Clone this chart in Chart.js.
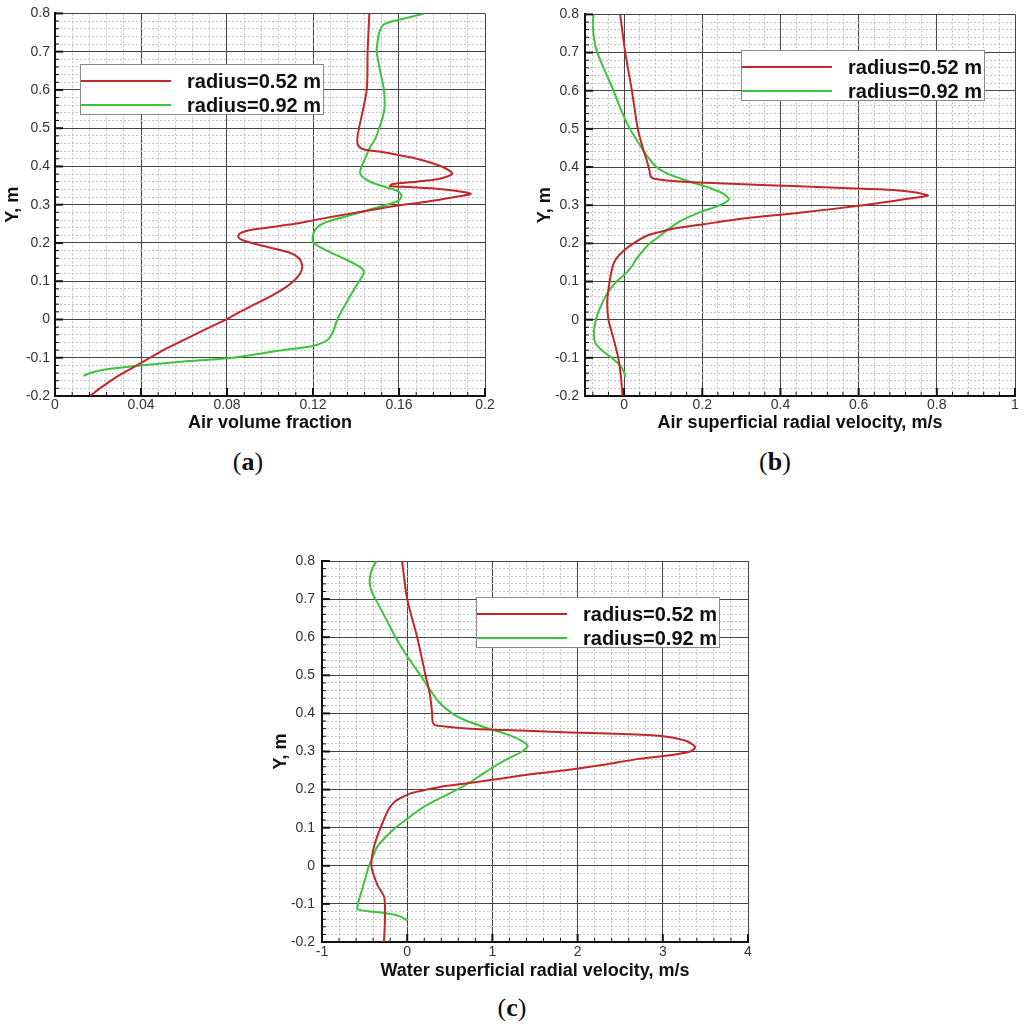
<!DOCTYPE html>
<html>
<head>
<meta charset="utf-8">
<script src="https://cdn.jsdelivr.net/npm/chart.js@4.4.1/dist/chart.umd.min.js"></script>
<style>
  body { margin: 0; background: #fff; width: 1024px; height: 1032px; position: relative; overflow: hidden; }
  canvas { position: absolute; }
  .cap { position: absolute; width: 100px; text-align: center; font: 26px "Liberation Serif", "Times New Roman", serif; line-height: 30px; color: #111; }
</style>
</head>
<body>
<canvas id="chartA" width="505" height="440" style="left:0px;top:0px"></canvas>
<canvas id="chartB" width="514" height="440" style="left:510px;top:0px"></canvas>
<canvas id="chartC" width="485" height="490" style="left:270px;top:500px"></canvas>
<div class="cap" style="left:198px;top:447px">(<b>a</b>)</div>
<div class="cap" style="left:725px;top:447px">(<b>b</b>)</div>
<div class="cap" style="left:462px;top:993px">(<b>c</b>)</div>

<script>
// series names
var seriesNames = ['radius=0.52 m', 'radius=0.92 m'];
var seriesColors = ['#c0282c', '#3cc43c'];

// shared Y axis (height, m)
var yTicks = [-0.2, -0.1, 0, 0.1, 0.2, 0.3, 0.4, 0.5, 0.6, 0.7, 0.8];
var yLabels = ['-0.2', '-0.1', '0', '0.1', '0.2', '0.3', '0.4', '0.5', '0.6', '0.7', '0.8'];

// (a) air volume fraction
var xTicksA = [0, 0.04, 0.08, 0.12, 0.16, 0.2];
var xLabelsA = ['0', '0.04', '0.08', '0.12', '0.16', '0.2'];
var yRedA = [0.80, 0.70, 0.60, 0.50, 0.47, 0.455, 0.445, 0.437, 0.420, 0.398, 0.381, 0.368, 0.360, 0.354, 0.349, 0.346, 0.341, 0.332, 0.328, 0.321, 0.308, 0.296, 0.278, 0.261, 0.248, 0.235, 0.225, 0.215, 0.205, 0.19, 0.175, 0.16, 0.14, 0.12, 0.10, 0.08, 0.06, 0.04, 0.02, 0.0, -0.02, -0.05, -0.08, -0.10, -0.125, -0.15, -0.18, -0.20];
var xRedA = [0.1462, 0.1454, 0.1450, 0.1414, 0.1406, 0.1410, 0.1434, 0.1527, 0.1682, 0.1806, 0.1848, 0.1790, 0.1680, 0.1570, 0.1558, 0.1650, 0.1790, 0.1915, 0.1933, 0.1868, 0.1729, 0.1574, 0.1388, 0.1217, 0.1093, 0.0922, 0.0860, 0.0853, 0.0884, 0.0985, 0.1090, 0.1135, 0.1150, 0.1140, 0.1109, 0.1062, 0.1000, 0.0930, 0.0860, 0.0798, 0.0721, 0.0612, 0.0504, 0.0442, 0.0364, 0.0287, 0.0209, 0.0163];
var yGreenA = [0.80, 0.79, 0.78, 0.77, 0.75, 0.72, 0.70, 0.65, 0.60, 0.55, 0.52, 0.50, 0.47, 0.45, 0.42, 0.40, 0.385, 0.375, 0.36, 0.345, 0.335, 0.322, 0.31, 0.30, 0.285, 0.27, 0.255, 0.24, 0.225, 0.21, 0.20, 0.18, 0.16, 0.14, 0.125, 0.11, 0.09, 0.06, 0.03, 0.0, -0.03, -0.05, -0.06, -0.07, -0.08, -0.10, -0.11, -0.12, -0.13, -0.14, -0.148];
var xGreenA = [0.1716, 0.1650, 0.1574, 0.1527, 0.1508, 0.1499, 0.1496, 0.1512, 0.1530, 0.1532, 0.1520, 0.1508, 0.1488, 0.1465, 0.1442, 0.1426, 0.1419, 0.1426, 0.1465, 0.1543, 0.1597, 0.1612, 0.1597, 0.1543, 0.1450, 0.1357, 0.1264, 0.1217, 0.1202, 0.1198, 0.1202, 0.1264, 0.1341, 0.1411, 0.1437, 0.1426, 0.1403, 0.1372, 0.1341, 0.1313, 0.1295, 0.1274, 0.1248, 0.1194, 0.1062, 0.0829, 0.0597, 0.0395, 0.0240, 0.0163, 0.0132];

// (b) air superficial radial velocity
var xTicksB = [0, 0.2, 0.4, 0.6, 0.8, 1];
var xLabelsB = ['0', '0.2', '0.4', '0.6', '0.8', '1'];
var yRedB = [0.80, 0.70, 0.60, 0.50, 0.45, 0.41, 0.39, 0.375, 0.37, 0.365, 0.36, 0.355, 0.35, 0.345, 0.34, 0.333, 0.325, 0.315, 0.30, 0.28, 0.265, 0.25, 0.24, 0.23, 0.22, 0.20, 0.18, 0.16, 0.14, 0.10, 0.05, 0.0, -0.05, -0.10, -0.15, -0.20];
var xRedB = [-0.010, 0.003, 0.020, 0.035, 0.048, 0.060, 0.065, 0.068, 0.075, 0.109, 0.177, 0.305, 0.432, 0.560, 0.688, 0.747, 0.777, 0.713, 0.611, 0.449, 0.305, 0.203, 0.135, 0.092, 0.058, 0.024, -0.002, -0.020, -0.029, -0.037, -0.043, -0.040, -0.027, -0.015, -0.008, -0.004];
var yGreenB = [0.80, 0.77, 0.72, 0.68, 0.64, 0.60, 0.55, 0.50, 0.46, 0.43, 0.40, 0.38, 0.36, 0.345, 0.33, 0.315, 0.30, 0.28, 0.26, 0.24, 0.22, 0.20, 0.18, 0.16, 0.14, 0.12, 0.10, 0.08, 0.05, 0.02, 0.0, -0.03, -0.06, -0.08, -0.10, -0.12, -0.14, -0.15];
var xGreenB = [-0.078, -0.080, -0.074, -0.061, -0.044, -0.027, -0.008, 0.015, 0.039, 0.058, 0.083, 0.117, 0.173, 0.220, 0.254, 0.268, 0.245, 0.190, 0.147, 0.117, 0.092, 0.066, 0.048, 0.032, 0.020, 0.003, -0.019, -0.036, -0.053, -0.066, -0.072, -0.077, -0.074, -0.057, -0.032, -0.010, 0.001, 0.003];

// (c) water superficial radial velocity
var xTicksC = [-1, 0, 1, 2, 3, 4];
var xLabelsC = ['-1', '0', '1', '2', '3', '4'];
var yRedC = [0.80, 0.70, 0.60, 0.50, 0.45, 0.40, 0.38, 0.37, 0.365, 0.36, 0.355, 0.35, 0.345, 0.34, 0.33, 0.32, 0.31, 0.30, 0.29, 0.28, 0.265, 0.25, 0.24, 0.23, 0.22, 0.21, 0.20, 0.19, 0.18, 0.17, 0.15, 0.10, 0.05, 0.0, -0.05, -0.08, -0.10, -0.15, -0.20];
var xRedC = [-0.06, 0.0, 0.117, 0.215, 0.266, 0.293, 0.297, 0.32, 0.469, 0.742, 1.328, 1.914, 2.617, 3.008, 3.242, 3.34, 3.379, 3.32, 3.086, 2.695, 2.305, 1.836, 1.445, 1.133, 0.82, 0.469, 0.234, 0.039, -0.059, -0.137, -0.215, -0.313, -0.39, -0.42, -0.35, -0.273, -0.262, -0.262, -0.273];
var yGreenC = [0.80, 0.78, 0.75, 0.72, 0.70, 0.65, 0.60, 0.55, 0.50, 0.46, 0.43, 0.40, 0.38, 0.36, 0.345, 0.33, 0.315, 0.30, 0.28, 0.26, 0.24, 0.22, 0.20, 0.18, 0.16, 0.14, 0.12, 0.10, 0.08, 0.05, 0.02, 0.0, -0.03, -0.06, -0.09, -0.11, -0.115, -0.12, -0.125, -0.13, -0.14, -0.145];
var xGreenC = [-0.359, -0.41, -0.441, -0.418, -0.371, -0.254, -0.137, 0.0, 0.156, 0.273, 0.371, 0.527, 0.703, 0.957, 1.172, 1.328, 1.414, 1.348, 1.172, 1.016, 0.879, 0.742, 0.586, 0.41, 0.234, 0.098, -0.02, -0.137, -0.234, -0.352, -0.41, -0.449, -0.488, -0.527, -0.566, -0.586, -0.578, -0.43, -0.234, -0.117, -0.02, 0.0];

Chart.defaults.font.family = '"Liberation Sans", Arial, sans-serif';
Chart.defaults.color = '#333';

function pairs(xs, ys) {
  return xs.map(function(x, i) { return {x: x, y: ys[i]}; });
}

function isMajor(v, majors) {
  for (var i = 0; i < majors.length; i++) {
    if (Math.abs(majors[i] - v) < 1e-9) return i;
  }
  return -1;
}

// majors plus 4 minor ticks between each pair, kept inside [min, max]
function withMinors(majors, min, max) {
  var step = (majors[1] - majors[0]) / 5;
  var out = [];
  for (var v = majors[0]; v >= min - 1e-9; v -= step) out.unshift(Math.round(v * 1e6) / 1e6);
  for (v = majors[0] + step; v <= max + 1e-9; v += step) out.push(Math.round(v * 1e6) / 1e6);
  return out;
}

function axis(majors, labels, min, max, title, size, pad, tickPad) {
  return {
    type: 'linear',
    min: min,
    max: max,
    afterBuildTicks: function(scale) {
      scale.ticks = withMinors(majors, min, max).map(function(v) { return {value: v}; });
    },
    afterFit: function(scale) {
      if (scale.isHorizontal()) scale.height = size; else scale.width = size;
    },
    ticks: {
      autoSkip: false,
      maxRotation: 0,
      padding: tickPad,
      color: '#333',
      font: {size: 14},
      callback: function(value) {
        var k = isMajor(value, majors);
        return k >= 0 ? labels[k] : '';
      }
    },
    grid: {
      drawTicks: false,
      color: function(ctx) { return isMajor(ctx.tick.value, majors) >= 0 ? '#454545' : '#c2c2c2'; },
      lineWidth: 1
    },
    border: {
      display: true,
      color: '#111',
      width: 2,
      dash: function(ctx) {
        if (!ctx.tick) return [];
        return isMajor(ctx.tick.value, majors) >= 0 ? [] : [2, 2];
      }
    },
    title: {
      display: true,
      text: title,
      color: '#111',
      font: {size: 18, weight: 'bold'},
      padding: pad
    }
  };
}

// short tick marks pointing into the plot on the left and bottom axes
var innerTicks = {
  id: 'innerTicks',
  afterDatasetsDraw: function(chart, args, opts) {
    var ctx = chart.ctx, a = chart.chartArea;
    ctx.save();
    ctx.strokeStyle = '#111';
    chart.scales.x.ticks.forEach(function(t) {
      var px = chart.scales.x.getPixelForValue(t.value);
      var major = isMajor(t.value, opts.xMajors) >= 0;
      ctx.lineWidth = major ? 2 : 1;
      ctx.beginPath();
      ctx.moveTo(px, a.bottom);
      ctx.lineTo(px, a.bottom - (major ? 8 : 4));
      ctx.stroke();
    });
    chart.scales.y.ticks.forEach(function(t) {
      var py = chart.scales.y.getPixelForValue(t.value);
      var major = isMajor(t.value, yTicks) >= 0;
      ctx.lineWidth = major ? 2 : 1;
      ctx.beginPath();
      ctx.moveTo(a.left, py);
      ctx.lineTo(a.left + (major ? 8 : 4), py);
      ctx.stroke();
    });
    ctx.restore();
  }
};

// boxed legend placed inside the plot, like the original figure
var boxLegend = {
  id: 'boxLegend',
  afterDraw: function(chart, args, opts) {
    var ctx = chart.ctx, a = chart.chartArea;
    var x0 = Math.round(a.left + opts.fx * (a.right - a.left));
    var y0 = Math.round(a.top + opts.fy * (a.bottom - a.top));
    ctx.save();
    ctx.fillStyle = '#fff';
    ctx.fillRect(x0, y0, 243, 50);
    ctx.strokeStyle = '#8a8a8a';
    ctx.lineWidth = 1;
    ctx.strokeRect(x0 + 0.5, y0 + 0.5, 243, 50);
    chart.data.datasets.forEach(function(ds, i) {
      var ly = y0 + 17 + i * 24;
      ctx.strokeStyle = ds.borderColor;
      ctx.lineWidth = 2;
      ctx.beginPath();
      ctx.moveTo(x0 + 1, ly);
      ctx.lineTo(x0 + 91, ly);
      ctx.stroke();
      ctx.fillStyle = '#111';
      ctx.font = 'bold 20px "Liberation Sans", Arial, sans-serif';
      ctx.textBaseline = 'middle';
      ctx.fillText(ds.label, x0 + 107, ly + 1);
    });
    ctx.restore();
  }
};

function makeChart(id, red, green, xScale, yScale, layoutPad, xMajors, legendPos) {
  return new Chart(document.getElementById(id), {
    type: 'scatter',
    data: {
      datasets: [
        {label: seriesNames[0], data: red, borderColor: seriesColors[0], showLine: true, borderWidth: 2, pointRadius: 0, tension: 0.25},
        {label: seriesNames[1], data: green, borderColor: seriesColors[1], showLine: true, borderWidth: 2, pointRadius: 0, tension: 0.25}
      ]
    },
    options: {
      responsive: false,
      animation: false,
      events: [],
      layout: {padding: layoutPad},
      scales: {x: xScale, y: yScale},
      plugins: {
        legend: {display: false},
        tooltip: {enabled: false},
        innerTicks: {xMajors: xMajors},
        boxLegend: legendPos
      }
    },
    plugins: [innerTicks, boxLegend]
  });
}

makeChart('chartA', pairs(xRedA, yRedA), pairs(xGreenA, yGreenA),
  axis(xTicksA, xLabelsA, 0, 0.2, 'Air volume fraction', 44, {top: 0, bottom: 6}, 1),
  axis(yTicks, yLabels, -0.2, 0.8, 'Y, m', 55, {top: 2, bottom: 0}, 5),
  {top: 10, right: 20, left: 0, bottom: 0}, xTicksA, {fx: 0.058, fy: 0.132});

makeChart('chartB', pairs(xRedB, yRedB), pairs(xGreenB, yGreenB),
  axis(xTicksB, xLabelsB, -0.1, 1, 'Air superficial radial velocity, m/s', 44, {top: 0, bottom: 6}, 1),
  axis(yTicks, yLabels, -0.2, 0.8, 'Y, m', 75, {top: 24, bottom: 0}, 6),
  {top: 10, right: 9, left: 0, bottom: 0}, xTicksB, {fx: 0.363, fy: 0.093});

makeChart('chartC', pairs(xRedC, yRedC), pairs(xGreenC, yGreenC),
  axis(xTicksC, xLabelsC, -1, 4, 'Water superficial radial velocity, m/s', 48, {top: 0, bottom: 8}, 2),
  axis(yTicks, yLabels, -0.2, 0.8, 'Y, m', 52, {top: 0, bottom: 0}, 7),
  {top: 61, right: 7, left: 0, bottom: 0}, xTicksC, {fx: 0.3615, fy: 0.0945});
</script>
</body>
</html>
